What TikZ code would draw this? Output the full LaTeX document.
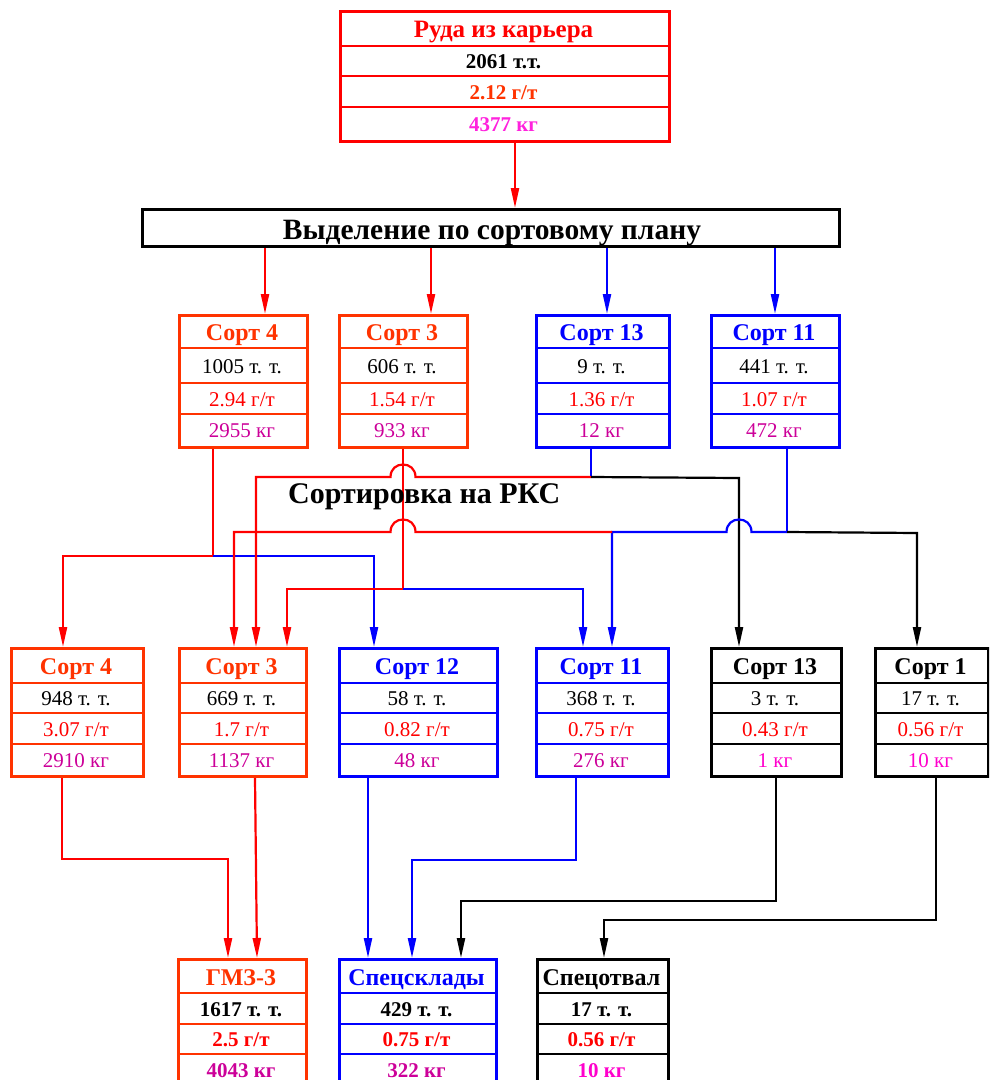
\documentclass[tikz,border=0pt]{standalone}
\usepackage{fontspec}
\setmainfont{Liberation Serif}
\usetikzlibrary{arrows.meta,calc}
\definecolor{ored}{HTML}{FF3300}
\definecolor{pred}{HTML}{FF0000}
\definecolor{pblue}{HTML}{0000FF}
\definecolor{kgpurple}{HTML}{CC0099}
\definecolor{kgpink}{HTML}{FF00CC}
\definecolor{kgmag}{HTML}{FF22DD}
\tikzset{
  conn/.style={line width=2.2pt, line join=miter},
  arr/.style={conn, -{Triangle[length=20pt,width=8pt]}},
  txt/.style={inner sep=0pt, anchor=base}
}
\newcommand{\orebox}[9]{%
  \node[draw=#4, line width=3pt, anchor=north west, inner sep=0pt,
        minimum width={(#3-#2)*1pt}, minimum height={(\ye-\ya)*1pt}] (#1) at (#2,\ya) {};
  \draw[#4, line width=2pt] (#2,\yb) -- (#3,\yb) (#2,\yc) -- (#3,\yc) (#2,\yd) -- (#3,\yd);
  \node[txt, text=#4, font=\titlef] (#1t) at ({(#2+#3)/2},{(\ya+\yb)/2+9.5}) {#5};
  \node[txt, text=black, font=\valf] (#1a) at ({(#2+#3)/2},{(\yb+\yc)/2+7.5}) {#6};
  \node[txt, text=\gcol, font=\valf] (#1b) at ({(#2+#3)/2},{(\yc+\yd)/2+7.5}) {#7};
  \node[txt, text=#9, font=\valf] (#1c) at ({(#2+#3)/2},{(\yd+\ye)/2+7.5}) {#8};
}
\begin{document}
\begin{tikzpicture}[x=1pt,y=-1pt]
\useasboundingbox (0,0) rectangle (989,1080);
\clip (0,0) rectangle (989,1080);

% ---------- top box
\def\titlef{\bfseries\fontsize{25}{25}\selectfont}
\def\valf{\bfseries\fontsize{21}{21}\selectfont}
\def\gcol{ored}
\def\ya{10}\def\yb{46}\def\yc{76}\def\yd{107}\def\ye{140}
\orebox{top}{339}{668}{pred}{Руда из карьера}{2061 т.т.}{2.12 г/т}{4377 кг}{kgmag}

% ---------- plan box
\node[draw=black, line width=3pt, anchor=north west, inner sep=0pt,
      minimum width=697pt, minimum height=37pt] (plan) at (141,208) {};
\node[inner sep=0pt, anchor=base, font=\bfseries\fontsize{29.5}{29.5}\selectfont] (plant) at (492,239) {Выделение по сортовому плану};

% ---------- row 1
\def\titlef{\bfseries\fontsize{24}{24}\selectfont}
\def\valf{\fontsize{21}{21}\selectfont}
\def\gcol{pred}
\def\ya{314}\def\yb{348}\def\yc{383}\def\yd{414}\def\ye{446}
\orebox{ras}{178}{306}{ored}{Сорт 4}{1005 т. т.}{2.94 г/т}{2955 кг}{kgpurple}
\orebox{rbs}{338}{466}{ored}{Сорт 3}{606 т. т.}{1.54 г/т}{933 кг}{kgpurple}
\orebox{rcs}{535}{668}{pblue}{Сорт 13}{9 т. т.}{1.36 г/т}{12 кг}{kgpurple}
\orebox{rds}{710}{838}{pblue}{Сорт 11}{441 т. т.}{1.07 г/т}{472 кг}{kgpurple}

% ---------- row 2
\def\ya{647}\def\yb{683}\def\yc{713}\def\yd{744}\def\ye{775}
\orebox{qa}{10}{142}{ored}{Сорт 4}{948 т. т.}{3.07 г/т}{2910 кг}{kgpurple}
\orebox{qb}{178}{305}{ored}{Сорт 3}{669 т. т.}{1.7 г/т}{1137 кг}{kgpurple}
\orebox{qc}{338}{496}{pblue}{Сорт 12}{58 т. т.}{0.82 г/т}{48 кг}{kgpurple}
\orebox{qd}{535}{667}{pblue}{Сорт 11}{368 т. т.}{0.75 г/т}{276 кг}{kgpurple}
\orebox{qe}{710}{840}{black}{Сорт 13}{3 т. т.}{0.43 г/т}{1 кг}{kgpink}
\orebox{qf}{874}{987}{black}{Сорт 1}{17 т. т.}{0.56 г/т}{10 кг}{kgpink}

% ---------- bottom
\def\valf{\bfseries\fontsize{21}{21}\selectfont}
\def\ya{958}\def\yb{993}\def\yc{1024}\def\yd{1054}\def\ye{1085}
\orebox{gmz}{177}{305}{ored}{ГМЗ-3}{1617 т. т.}{2.5 г/т}{4043 кг}{kgpurple}
\orebox{sklad}{338}{495}{pblue}{Спецсклады}{429 т. т.}{0.75 г/т}{322 кг}{kgpurple}
\orebox{otval}{536}{667}{black}{Спецотвал}{17 т. т.}{0.56 г/т}{10 кг}{kgpink}

% ---------- connectors: top and plan
\draw[arr,pred] (515,0 |- top.south) -- (515,0 |- plan.north);
\draw[arr,pred] (265,0 |- plan.south) -- (265,0 |- ras.north);
\draw[arr,pred] (431,0 |- plan.south) -- (431,0 |- rbs.north);
\draw[arr,pblue] (607,0 |- plan.south) -- (607,0 |- rcs.north);
\draw[arr,pblue] (775,0 |- plan.south) -- (775,0 |- rds.north);

% ---------- sorting on RKS
\coordinate (ja) at (213,556);
\coordinate (jb) at (403,589);
\coordinate (jc) at (591,477);
\coordinate (jd) at (787,532);
\coordinate (je) at (612,532);

\draw[conn,pred] (ja |- ras.south) -- (ja);
\draw[arr,pred] (ja) -- (63,556) -- (63,0 |- qa.north);
\draw[arr,pblue] (ja) -- (374,556) -- (374,0 |- qc.north);

\draw[conn,pred] (jb |- rbs.south) -- (jb);
\draw[arr,pred] (jb) -- (287,589) -- (287,0 |- qb.north);
\draw[arr,pblue] (jb) -- (583,589) -- (583,0 |- qd.north);

\draw[conn,pblue] (jc |- rcs.south) -- (jc);
\draw[arr,pred] (jc) -- (415.5,477) .. controls (415.5,460.3) and (390.5,460.3) .. (390.5,477) -- (256,477) -- (256,0 |- qb.north);
\draw[arr,black] (jc) -- (739,478) -- (739,0 |- qe.north);

\draw[conn,pblue] (jd |- rds.south) -- (jd);
\draw[arr,pblue] (jd) -- (751.5,532) .. controls (751.5,515.3) and (726.5,515.3) .. (726.5,532) -- (je) -- (je |- qd.north);
\draw[arr,pred] (je) -- (415.5,532) .. controls (415.5,515.3) and (390.5,515.3) .. (390.5,532) -- (234,532) -- (234,0 |- qb.north);
\draw[arr,black] (jd) -- (917,533) -- (917,0 |- qf.north);

\node[inner sep=0pt, anchor=base west, font=\bfseries\fontsize{30}{30}\selectfont] (rks) at (288,503) {Сортировка на РКС};

% ---------- row 2 to destinations
\draw[arr,pred] (62,0 |- qa.south) -- (62,859) -- (228,859) -- (228,0 |- gmz.north);
\draw[arr,pred] (255,0 |- qb.south) -- (257,0 |- gmz.north);
\draw[arr,pblue] (368,0 |- qc.south) -- (368,0 |- sklad.north);
\draw[arr,pblue] (576,0 |- qd.south) -- (576,860) -- (412,860) -- (412,0 |- sklad.north);
\draw[arr,black] (776,0 |- qe.south) -- (776,901) -- (461,901) -- (461,0 |- sklad.north);
\draw[arr,black] (936,0 |- qf.south) -- (936,920) -- (604,920) -- (604,0 |- otval.north);
\end{tikzpicture}
\end{document}
